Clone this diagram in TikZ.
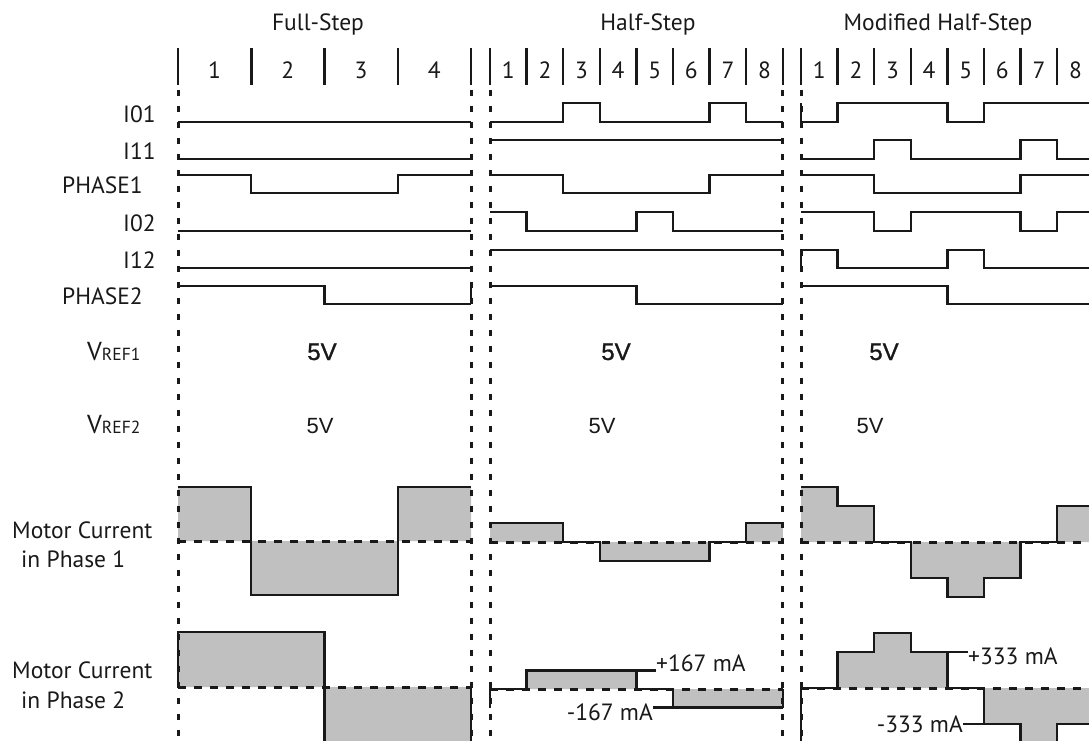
\documentclass[tikz,border=0pt]{standalone}
\usepackage{fontspec}
\setmainfont{PT Sans}
\newfontfamily\vfontA{Liberation Sans}[FakeBold=1.2]
\newfontfamily\vfontB{Liberation Sans}
\definecolor{ink}{RGB}{25,25,25}
\definecolor{curgray}{RGB}{192,192,192}
\tikzset{
  wave/.style={line width=2.3pt, draw=ink},
  sepline/.style={line width=3pt, draw=ink, dash pattern=on 6pt off 10pt},
  zeroline/.style={line width=3pt, draw=ink, dash pattern=on 8pt off 8pt},
  tickmark/.style={line width=2.5pt, draw=ink},
  curfill/.style={fill=curgray},
  txt/.style={font=\fontsize{23.5}{23.5}\selectfont, text=ink, inner sep=0pt},
  lbl/.style={txt, anchor=base west},
  ctr/.style={txt, anchor=base},
  vA/.style={font=\vfontA\fontsize{24}{24}\selectfont, text=ink, inner sep=0pt, anchor=base},
  vB/.style={font=\vfontB\fontsize{22}{22}\selectfont, text=ink, inner sep=0pt, anchor=base},
}
% x0, step, ybase, amp, first level, levels
\newcommand\sig[6]{\draw[wave] ({#1},{#3-#4*#5}) \foreach \lv [count=\i] in {#6} { -- ({#1+(\i-1)*#2},{#3-#4*\lv}) -- ({#1+\i*#2},{#3-#4*\lv}) };}
% x0, step, zero, amp, first, levels, xend
\newcommand\curfill[7]{\fill[curfill] ({#1},{#3}) -- ({#1},{#3-#4*#5}) \foreach \lv [count=\i] in {#6} { -- ({#1+(\i-1)*#2},{#3-#4*\lv}) -- ({#1+\i*#2},{#3-#4*\lv}) } -- ({#7},{#3}) -- cycle;}
\begin{document}
\begin{tikzpicture}[x=1pt,y=-1pt]
\useasboundingbox (0,0) rectangle (1089,740);
\fill[white] (0,0) rectangle (1089,740);
\clip (0,0) rectangle (1089,740);
% ---- current fills
\curfill{178}{73.25}{541}{54}{1}{1,-1,-1,1}{471}
\curfill{178}{73.25}{687}{55}{0}{1,1,-1,-1}{471}
\curfill{490}{36.6}{542}{19}{1}{1,1,0,-1,-1,-1,0,1}{782.8}
\curfill{490}{36.6}{689}{18.5}{-1}{0,1,1,1,0,-1,-1,-1}{782.8}
\curfill{801}{36.6}{542}{55}{1}{1,0.66,0,-0.66,-1,-0.66,0,0.66}{1093.8}
\curfill{801}{36.6}{688}{55}{-1}{0,0.66,1,0.66,0,-0.66,-1,-0.66}{1093.8}
% ---- separators
\foreach \sx in {178,471,490,782.8,801} { \draw[sepline] (\sx,90) -- (\sx,745); }
% ---- zero lines
\draw[zeroline] (178,541) -- (471,541);
\draw[zeroline] (178,687) -- (471,687);
\draw[zeroline] (490,542) -- (783,542);
\draw[zeroline] (490,689) -- (783,689);
\draw[zeroline] (801,542) -- (1089,542);
\draw[zeroline] (801,688) -- (1089,688);
% ---- tick marks
\foreach \k in {0,...,4} { \draw[tickmark] ({178+73.25*\k},48) -- ({178+73.25*\k},85); }
\foreach \k in {0,...,8} { \draw[tickmark] ({490+36.6*\k},48) -- ({490+36.6*\k},85);
                           \draw[tickmark] ({801+36.6*\k},48) -- ({801+36.6*\k},85); }
% ---- step numbers
\foreach \k in {1,...,4} { \node[ctr] (nf\k) at ({178+73.25*(\k-0.5)},78) {\k}; }
\foreach \k in {1,...,8} { \node[ctr] (nh\k) at ({490+36.6*(\k-0.5)},78) {\k};
                           \node[ctr] (nm\k) at ({801+36.6*(\k-0.5)},78) {\k}; }
% ---- titles
\node[ctr] (tfull) at (318,30) {Full-Step};
\node[ctr] (thalf) at (648,30) {Half-Step};
\node[ctr] (tmod) at (938,30) {Modified Half-Step};
% ---- row labels
\node[lbl] (lI01) at (123,122) {I01};
\node[lbl] (lI11) at (123,159) {I11};
\node[lbl] (lPH1) at (62,193) {PHASE1};
\node[lbl] (lI02) at (123,231) {I02};
\node[lbl] (lI12) at (123,268) {I12};
\node[lbl] (lPH2) at (62,304) {PHASE2};
\node[lbl] (lV1) at (87,360) {{\fontsize{26}{26}\selectfont V}{\fontsize{17.5}{17.5}\selectfont REF1}};
\node[lbl] (lV2) at (87,433) {{\fontsize{26}{26}\selectfont V}{\fontsize{17.5}{17.5}\selectfont REF2}};
\node[lbl] (lM1a) at (12,538) {Motor Current};
\node[lbl] (lM1b) at (21,567) {in Phase 1};
\node[lbl] (lM2a) at (12,678) {Motor Current};
\node[lbl] (lM2b) at (21,708) {in Phase 2};
% ---- VREF values
\node[vA] (v1f) at (322,360) {5V};
\node[vA] (v1h) at (616,360) {5V};
\node[vA] (v1m) at (884,360) {5V};
\node[vB] (v2f) at (320,433) {5V};
\node[vB] (v2h) at (602,433) {5V};
\node[vB] (v2m) at (870,433) {5V};
% ---- logic signals: full step
\sig{178}{73.25}{122}{19}{0}{0,0,0,0}
\sig{178}{73.25}{159}{19}{0}{0,0,0,0}
\sig{178}{73.25}{193}{18}{1}{1,0,0,1}
\sig{178}{73.25}{231}{19}{0}{0,0,0,0}
\sig{178}{73.25}{268}{18}{0}{0,0,0,0}
\sig{178}{73.25}{304}{18}{1}{1,1,0,0}
\draw[wave] (471,304) -- (471,286);
% half step
\sig{490}{36.6}{122}{19}{0}{0,0,1,0,0,0,1,0}
\sig{490}{36.6}{159}{19}{1}{1,1,1,1,1,1,1,1}
\sig{490}{36.6}{193}{18}{1}{1,1,0,0,0,0,1,1}
\sig{490}{36.6}{231}{19}{1}{1,0,0,0,1,0,0,0}
\sig{490}{36.6}{268}{18}{1}{1,1,1,1,1,1,1,1}
\sig{490}{36.6}{304}{18}{1}{1,1,1,1,0,0,0,0}
% modified half step
\sig{801}{36.6}{122}{19}{1}{0,1,1,1,0,1,1,1}
\sig{801}{36.6}{159}{19}{0}{0,0,1,0,0,0,1,0}
\sig{801}{36.6}{193}{18}{1}{1,1,0,0,0,0,1,1}
\sig{801}{36.6}{231}{19}{1}{1,1,0,1,1,1,0,1}
\sig{801}{36.6}{268}{18}{0}{1,0,0,0,1,0,0,0}
\sig{801}{36.6}{304}{18}{1}{1,1,1,1,0,0,0,0}
% ---- motor current outlines
\sig{178}{73.25}{541}{54}{1}{1,-1,-1,1}
\sig{178}{73.25}{687}{55}{0}{1,1,-1,-1}
\draw[wave] (471,687) -- (471,745);
\sig{490}{36.6}{542}{19}{1}{1,1,0,-1,-1,-1,0,1}
\sig{490}{36.6}{689}{18.5}{-1}{0,1,1,1,0,-1,-1,-1}
\draw[wave] (782.8,689) -- (782.8,707.5);
\sig{801}{36.6}{542}{55}{1}{1,0.66,0,-0.66,-1,-0.66,0,0.66}
\sig{801}{36.6}{688}{55}{-1}{0,0.66,1,0.66,0,-0.66,-1,-0.66}
\draw[wave] (801,688) -- (801,745);
% ---- current value labels
\node[lbl] (p167) at (656,671) {+167 mA};
\coordinate (c167) at (636.4,670.5);
\draw[wave] (c167) -- (c167 -| p167.west);
\node[txt, anchor=base east] (m167) at (653,720) {-167 mA};
\coordinate (d167) at (673,707.5);
\draw[wave] (d167) -- (d167 -| m167.east);
\node[lbl] (p333) at (968,664) {+333 mA};
\coordinate (c333) at (947.4,651.7);
\draw[wave] (c333) -- (c333 -| p333.west);
\node[txt, anchor=base east] (m333) at (963,732) {-333 mA};
\coordinate (d333) at (984,724.3);
\draw[wave] (d333) -- (d333 -| m333.east);
\end{tikzpicture}
\end{document}
